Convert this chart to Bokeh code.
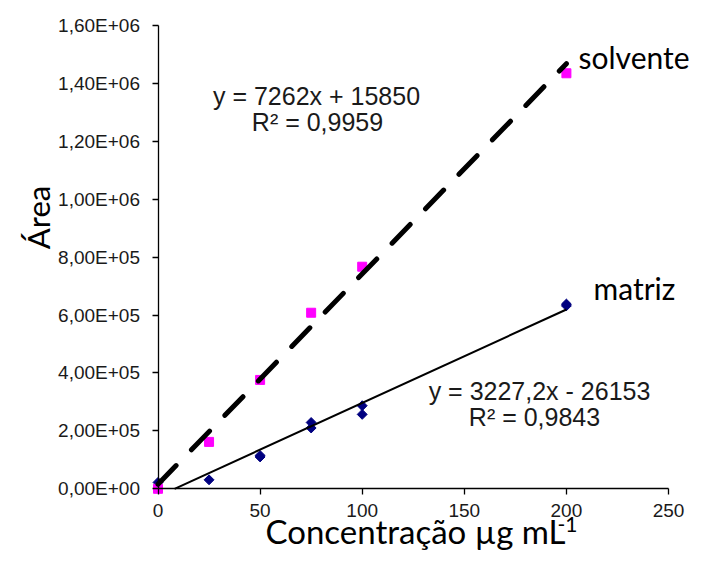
from math import pi
from bokeh.plotting import figure
from bokeh.models import Label, FixedTicker, Range1d
from bokeh.embed import file_html
from bokeh.resources import INLINE

# ---- data ----
conc_solvente = [0, 25, 50, 75, 100, 200]
area_solvente = [0, 162000, 376000, 608000, 767000, 1435000]

conc_matriz = [0, 25, 50, 50, 75, 75, 100, 100, 200, 200]
area_matriz = [22000, 31000, 110000, 115000, 229000, 210000, 287000, 257000, 638000, 632000]

slope_solvente, intercept_solvente = 7262, 15850
slope_matriz, intercept_matriz = 3227.2, -26153
trend_end = 200

eq_solvente = ["y = 7262x + 15850", "R² = 0,9959"]
eq_matriz = ["y = 3227,2x - 26153", "R² = 0,9843"]
series_names = ["solvente", "matriz"]

x_ticks = [0, 50, 100, 150, 200, 250]
y_ticks = [0, 200000, 400000, 600000, 800000, 1000000, 1200000, 1400000, 1600000]
y_tick_labels = ["0,00E+00", "2,00E+05", "4,00E+05", "6,00E+05", "8,00E+05",
                 "1,00E+06", "1,20E+06", "1,40E+06", "1,60E+06"]

x_title = "Concentração µg mL"
x_title_sup = "-1"
y_title = "Área"

# ---- layout (pixels) ----
W, H = 695, 551
FL, FR, FT, FB = 157.5, 668.0, 25.0, 488.3   # where the axes box sits in the figure
x0, x1 = x_ticks[0], x_ticks[-1]
y0, y1 = y_ticks[0], y_ticks[-1]
xs = (x1 - x0) / (FR - FL)
ys = (y1 - y0) / (FB - FT)

p = figure(width=W, height=H, output_backend="svg", toolbar_location=None,
           x_range=Range1d(x0 - FL * xs, x1 + (W - FR) * xs),
           y_range=Range1d(y0 - (H - FB) * ys, y1 + FT * ys),
           min_border=0)
p.outline_line_color = None
p.grid.visible = False
p.background_fill_color = "white"
p.border_fill_color = "white"

AX = "Liberation Sans"
CAL = "Lato"
MID = {AX: 0.347, CAL: 0.387}   # baseline-to-middle distance, in em

for ax in (p.xaxis[0], p.yaxis[0]):
    ax.fixed_location = 0
    ax.axis_line_color = "black"
    ax.axis_line_width = 1.3
    ax.major_tick_line_color = "black"
    ax.major_tick_line_width = 1.3
    ax.major_tick_in = 0
    ax.major_tick_out = 6
    ax.minor_tick_line_color = None
    ax.major_label_text_font = AX
    ax.major_label_text_font_size = "19px"
    ax.major_label_text_color = "#1a1a1a"

p.xaxis.bounds = (x0, x1)
p.yaxis.bounds = (y0, y1)
p.xaxis.ticker = FixedTicker(ticks=x_ticks)
p.yaxis.ticker = FixedTicker(ticks=y_ticks)
p.yaxis.major_label_overrides = {t: l for t, l in zip(y_ticks, y_tick_labels)}
p.yaxis.major_label_standoff = 12
p.xaxis.major_label_standoff = 9

# trendlines (the matriz line starts where it crosses zero)
tx_sol = [0, trend_end]
tx_mat = [max(0, -intercept_matriz / slope_matriz), trend_end]
trend_sol = [slope_solvente * x + intercept_solvente for x in tx_sol]
trend_mat = [slope_matriz * x + intercept_matriz for x in tx_mat]

p.scatter(conc_matriz, area_matriz, marker="square", angle=pi / 4, size=7,
          fill_color="#000080", line_color="#000080")
p.scatter(conc_solvente, area_solvente, marker="square", size=9,
          fill_color="#FF00FF", line_color="#FF00FF")

p.line(tx_sol, trend_sol, line_color="black", line_width=5, line_dash="26 22", line_cap="round")
p.line(tx_mat, trend_mat, line_color="black", line_width=2)


def lab(text, x, baseline_y, font, size, align="center", color="#1a1a1a"):
    # x: pixels from the left; baseline_y: pixels from the top of the figure
    mid = baseline_y - MID[font] * size
    p.add_layout(Label(x=x, y=H - mid, x_units="screen", y_units="screen", text=text,
                       text_font=font, text_font_size=f"{size}px", text_align=align,
                       text_baseline="middle", text_color=color))


lab(eq_solvente[0], 316, 104, AX, 25)
lab(eq_solvente[1], 317, 130, AX, 25)
lab(eq_matriz[0], 539, 399, AX, 25)
lab(eq_matriz[1], 534, 425, AX, 25)

lab(series_names[0], 578, 68, CAL, 30, align="left", color="black")
lab(series_names[1], 593, 299, CAL, 30, align="left", color="black")

lab(x_title, 265, 543, CAL, 33, align="left", color="black")
lab(x_title_sup, 557, 532, CAL, 21, align="left", color="black")

p.add_layout(Label(x=37, y=H - 217, x_units="screen", y_units="screen", text=y_title,
                   text_font=CAL, text_font_size="31px", text_align="center",
                   text_baseline="alphabetic", angle=pi / 2, text_color="black"))

open("out.html", "w").write(file_html(p, INLINE))
